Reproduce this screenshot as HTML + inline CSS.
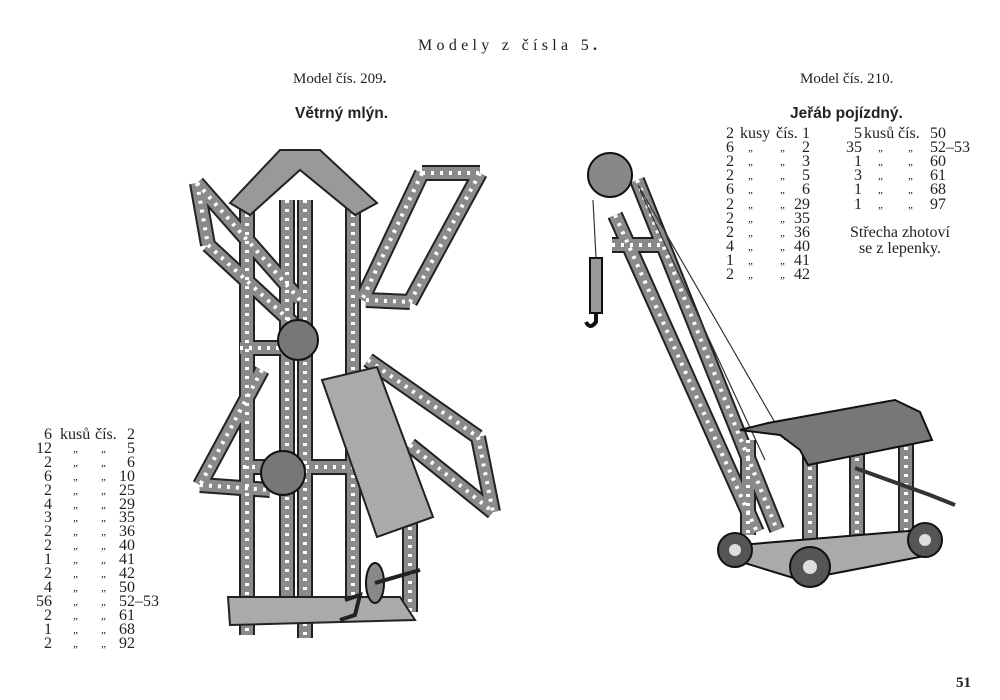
<!DOCTYPE html>
<html><head><meta charset="utf-8"><style>
html,body{margin:0;padding:0;background:#fff}
body{width:1000px;height:700px;position:relative;overflow:hidden;font-family:"Liberation Serif",serif;color:#222}
.t{position:absolute;white-space:nowrap;font-size:15px;line-height:14px}
.b{font-family:"Liberation Sans",sans-serif;font-weight:bold;font-size:15.5px}
.r{position:absolute;height:14px;width:300px;font-size:16px;line-height:14px}
.r span{position:absolute;top:0;white-space:nowrap}
.q{font-size:11px;font-style:italic}
</style></head><body>
<svg width="1000" height="700" style="position:absolute;left:0;top:0">
<defs>
<path id="w" d="M247 205L247 635M305 200L305 638M287 200L287 600M353 205L353 600M410 500L410 612
M197 183L208 245M197 183L300 300M208 245L300 330M422 173L480 173M480 173L410 302M422 173L362 300M366 300L410 302
M368 360L478 437M478 437L493 512M410 445L493 512M262 370L200 485M200 485L270 490
M240 348L305 348M243 467L363 467"/>
<path id="c" d="M615 215L757 532M637 180L777 530M612 245L660 245M810 440L810 545M857 440L857 545M906 420L906 535M748 440L748 535"/>
</defs>
<g fill="none" stroke-linecap="butt">
<use href="#w" stroke="#222" stroke-width="16"/>
<use href="#w" stroke="#8a8a8a" stroke-width="12"/>
<use href="#w" stroke="#fff" stroke-width="4" stroke-dasharray="3 6"/>
<use href="#c" stroke="#222" stroke-width="16"/>
<use href="#c" stroke="#8a8a8a" stroke-width="12"/>
<use href="#c" stroke="#fff" stroke-width="4" stroke-dasharray="3 6"/>
</g>
<polygon points="230,203 280,150 320,150 377,203 355,215 300,170 250,215" fill="#999" stroke="#222" stroke-width="2"/>
<polygon points="322,380 377,367 433,517 377,537" fill="#aaa" stroke="#222" stroke-width="2"/>
<polygon points="228,597 400,597 415,620 230,625" fill="#aaa" stroke="#222" stroke-width="2"/>
<circle cx="298" cy="340" r="20" fill="#777" stroke="#111" stroke-width="2"/>
<circle cx="283" cy="473" r="22" fill="#777" stroke="#111" stroke-width="2"/>
<ellipse cx="375" cy="583" rx="9" ry="20" fill="#888" stroke="#111" stroke-width="2"/>
<path d="M375 583L420 570M345 600L360 595L355 615L340 620" stroke="#222" stroke-width="4" fill="none"/>
<circle cx="610" cy="175" r="22" fill="#888" stroke="#111" stroke-width="2"/>
<path d="M593 200L596 258M638 185L785 440M640 190L765 460" stroke="#333" stroke-width="1.2"/>
<rect x="590" y="258" width="12" height="55" fill="#999" stroke="#111" stroke-width="2"/>
<path d="M596 313L596 322Q590 330 586 322" stroke="#111" stroke-width="4" fill="none"/>
<polygon points="740,430 768,423 895,400 920,412 932,440 808,465 800,450 780,435" fill="#777" stroke="#111" stroke-width="2"/>
<polygon points="740,545 920,530 930,555 800,580 735,560" fill="#aaa" stroke="#111" stroke-width="2"/>
<path d="M855 468L930 495L955 505" stroke="#333" stroke-width="4" fill="none"/>
<circle cx="735" cy="550" r="17" fill="#555" stroke="#111" stroke-width="2"/>
<circle cx="810" cy="567" r="20" fill="#555" stroke="#111" stroke-width="2"/>
<circle cx="925" cy="540" r="17" fill="#555" stroke="#111" stroke-width="2"/>
<circle cx="735" cy="550" r="6" fill="#ddd"/><circle cx="810" cy="567" r="7" fill="#ddd"/><circle cx="925" cy="540" r="6" fill="#ddd"/>
</svg>
<div class="t" style="left:418px;top:39px;letter-spacing:4.3px;font-size:16px">Modely z čísla 5<b>.</b></div>
<div class="t" style="left:293px;top:72px">Model čís. 209<b>.</b></div>
<div class="t" style="left:800px;top:72px">Model čís. 210.</div>
<div class="t b" style="left:295px;top:107px">Větrný mlýn.</div>
<div class="t b" style="left:790px;top:107px">Jeřáb pojízdný.</div>

<!-- left list -->
<div style="position:absolute;left:0;top:428px">
<div class="r" style="top:0"><span style="right:248px">6</span><span style="left:60px">kusů</span><span style="left:95px">čís.</span><span style="left:127px">2</span></div>
<div class="r" style="top:13.9px"><span style="right:248px">12</span><span class="q" style="left:73px">„</span><span class="q" style="left:101px">„</span><span style="left:127px">5</span></div>
<div class="r" style="top:27.8px"><span style="right:248px">2</span><span class="q" style="left:73px">„</span><span class="q" style="left:101px">„</span><span style="left:127px">6</span></div>
<div class="r" style="top:41.7px"><span style="right:248px">6</span><span class="q" style="left:73px">„</span><span class="q" style="left:101px">„</span><span style="left:119px">10</span></div>
<div class="r" style="top:55.6px"><span style="right:248px">2</span><span class="q" style="left:73px">„</span><span class="q" style="left:101px">„</span><span style="left:119px">25</span></div>
<div class="r" style="top:69.5px"><span style="right:248px">4</span><span class="q" style="left:73px">„</span><span class="q" style="left:101px">„</span><span style="left:119px">29</span></div>
<div class="r" style="top:83.4px"><span style="right:248px">3</span><span class="q" style="left:73px">„</span><span class="q" style="left:101px">„</span><span style="left:119px">35</span></div>
<div class="r" style="top:97.3px"><span style="right:248px">2</span><span class="q" style="left:73px">„</span><span class="q" style="left:101px">„</span><span style="left:119px">36</span></div>
<div class="r" style="top:111.2px"><span style="right:248px">2</span><span class="q" style="left:73px">„</span><span class="q" style="left:101px">„</span><span style="left:119px">40</span></div>
<div class="r" style="top:125.1px"><span style="right:248px">1</span><span class="q" style="left:73px">„</span><span class="q" style="left:101px">„</span><span style="left:119px">41</span></div>
<div class="r" style="top:139px"><span style="right:248px">2</span><span class="q" style="left:73px">„</span><span class="q" style="left:101px">„</span><span style="left:119px">42</span></div>
<div class="r" style="top:152.9px"><span style="right:248px">4</span><span class="q" style="left:73px">„</span><span class="q" style="left:101px">„</span><span style="left:119px">50</span></div>
<div class="r" style="top:166.8px"><span style="right:248px">56</span><span class="q" style="left:73px">„</span><span class="q" style="left:101px">„</span><span style="left:119px">52–53</span></div>
<div class="r" style="top:180.7px"><span style="right:248px">2</span><span class="q" style="left:73px">„</span><span class="q" style="left:101px">„</span><span style="left:119px">61</span></div>
<div class="r" style="top:194.6px"><span style="right:248px">1</span><span class="q" style="left:73px">„</span><span class="q" style="left:101px">„</span><span style="left:119px">68</span></div>
<div class="r" style="top:208.5px"><span style="right:248px">2</span><span class="q" style="left:73px">„</span><span class="q" style="left:101px">„</span><span style="left:119px">92</span></div>
</div>

<!-- right list col 1 -->
<div style="position:absolute;left:0;top:127px">
<div class="r" style="top:0;left:726px"><span style="left:0">2</span><span style="left:14px">kusy</span><span style="left:50px">čís.</span><span style="right:216px">1</span></div>
<div class="r" style="top:14.1px;left:726px"><span>6</span><span class="q" style="left:22px">„</span><span class="q" style="left:54px">„</span><span style="right:216px">2</span></div>
<div class="r" style="top:28.2px;left:726px"><span>2</span><span class="q" style="left:22px">„</span><span class="q" style="left:54px">„</span><span style="right:216px">3</span></div>
<div class="r" style="top:42.3px;left:726px"><span>2</span><span class="q" style="left:22px">„</span><span class="q" style="left:54px">„</span><span style="right:216px">5</span></div>
<div class="r" style="top:56.4px;left:726px"><span>6</span><span class="q" style="left:22px">„</span><span class="q" style="left:54px">„</span><span style="right:216px">6</span></div>
<div class="r" style="top:70.5px;left:726px"><span>2</span><span class="q" style="left:22px">„</span><span class="q" style="left:54px">„</span><span style="right:216px">29</span></div>
<div class="r" style="top:84.6px;left:726px"><span>2</span><span class="q" style="left:22px">„</span><span class="q" style="left:54px">„</span><span style="right:216px">35</span></div>
<div class="r" style="top:98.7px;left:726px"><span>2</span><span class="q" style="left:22px">„</span><span class="q" style="left:54px">„</span><span style="right:216px">36</span></div>
<div class="r" style="top:112.8px;left:726px"><span>4</span><span class="q" style="left:22px">„</span><span class="q" style="left:54px">„</span><span style="right:216px">40</span></div>
<div class="r" style="top:126.9px;left:726px"><span>1</span><span class="q" style="left:22px">„</span><span class="q" style="left:54px">„</span><span style="right:216px">41</span></div>
<div class="r" style="top:141px;left:726px"><span>2</span><span class="q" style="left:22px">„</span><span class="q" style="left:54px">„</span><span style="right:216px">42</span></div>
</div>
<!-- right list col 2 -->
<div style="position:absolute;left:0;top:127px">
<div class="r" style="top:0;left:562px"><span style="right:0">5</span><span style="left:302px">kusů</span><span style="left:336px">čís.</span><span style="left:368px">50</span></div>
<div class="r" style="top:14.1px;left:562px"><span style="right:0">35</span><span class="q" style="left:316px">„</span><span class="q" style="left:346px">„</span><span style="left:368px">52–53</span></div>
<div class="r" style="top:28.2px;left:562px"><span style="right:0">1</span><span class="q" style="left:316px">„</span><span class="q" style="left:346px">„</span><span style="left:368px">60</span></div>
<div class="r" style="top:42.3px;left:562px"><span style="right:0">3</span><span class="q" style="left:316px">„</span><span class="q" style="left:346px">„</span><span style="left:368px">61</span></div>
<div class="r" style="top:56.4px;left:562px"><span style="right:0">1</span><span class="q" style="left:316px">„</span><span class="q" style="left:346px">„</span><span style="left:368px">68</span></div>
<div class="r" style="top:70.5px;left:562px"><span style="right:0">1</span><span class="q" style="left:316px">„</span><span class="q" style="left:346px">„</span><span style="left:368px">97</span></div>
</div>
<div class="t" style="left:850px;top:225px;text-align:center;line-height:16px;font-size:16px">Střecha zhotoví<br>se z lepenky.</div>
<div class="t" style="left:956px;top:676px;font-weight:bold;font-size:15px">51</div>
</body></html>
